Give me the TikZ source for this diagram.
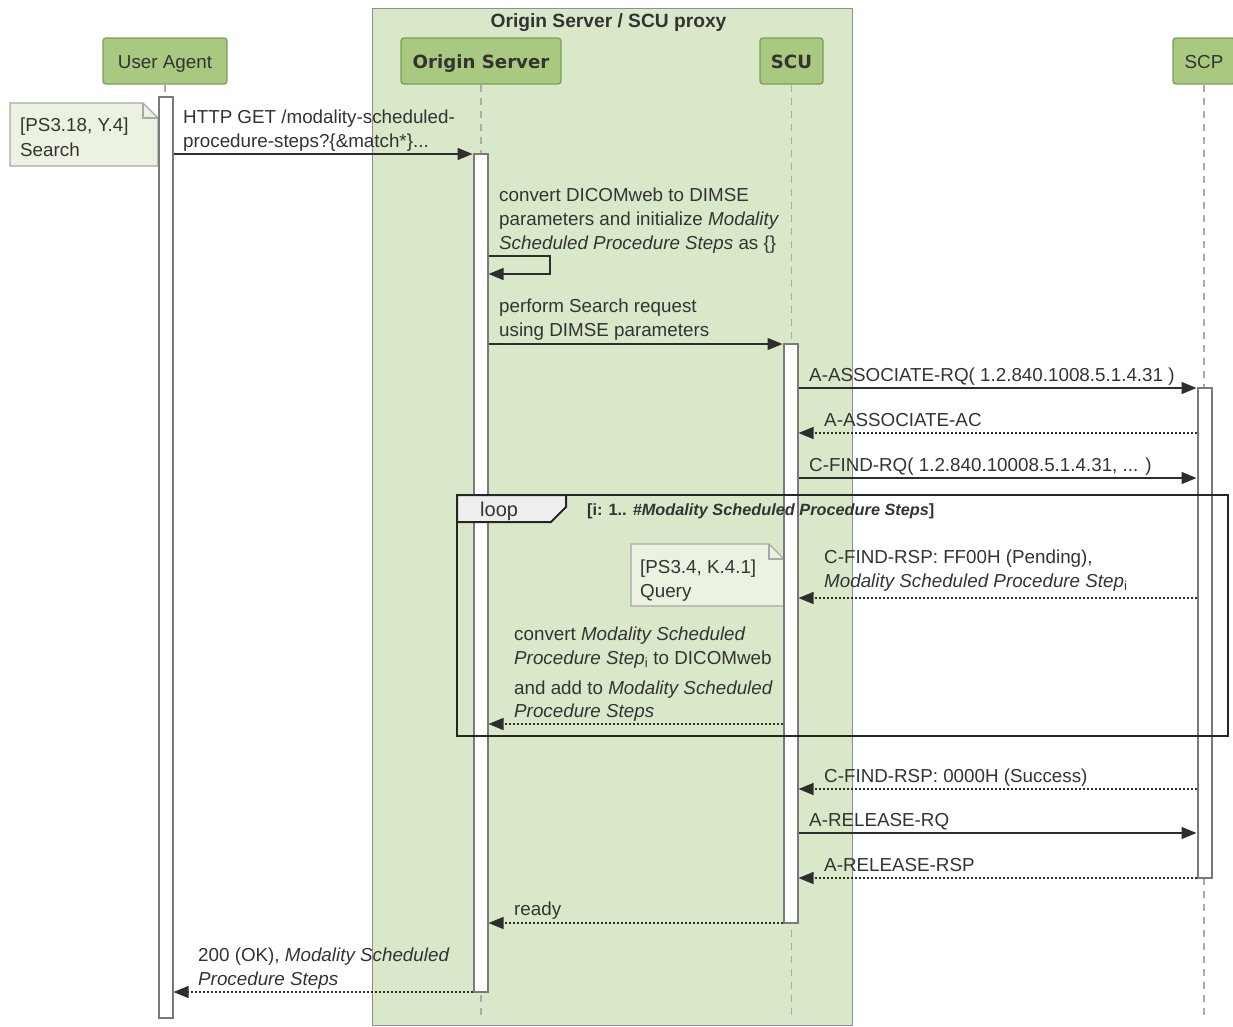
\documentclass[tikz,border=0pt]{standalone}
\usepackage{fontspec}
\setmainfont{Liberation Sans}
\newfontfamily\dejavu{DejaVu Sans}
\usetikzlibrary{arrows.meta}
\definecolor{partfill}{HTML}{A8C97F}
\definecolor{partdraw}{HTML}{7A9F5A}
\definecolor{grpfill}{HTML}{DAE8CA}
\definecolor{grpdraw}{HTML}{8F8F8F}
\definecolor{notefill}{HTML}{EBF2E1}
\definecolor{notedraw}{HTML}{A8A8A8}
\definecolor{tabfill}{HTML}{EEEEEE}
\definecolor{txt}{HTML}{333333}
\definecolor{lnk}{HTML}{2E2E2E}
\definecolor{lifec}{HTML}{ABABAB}
\definecolor{bardraw}{HTML}{7A7A7A}
\newcommand\msgfont{\fontsize{18.8}{24}\selectfont}
\begin{document}
\begin{tikzpicture}[x=1pt,y=-1pt,
  part/.style={draw=partdraw, fill=partfill, rounded corners=3pt, line width=1.3pt,
    minimum height=46pt, inner sep=0pt, text=txt, font=\msgfont, text height=19.5pt, text depth=4pt},
  partb/.style={part, font=\dejavu\bfseries\fontsize{18.2}{22}\selectfont},
  lifeline/.style={draw=lifec, line width=1.5pt, dash pattern=on 7pt off 6pt},
  actbar/.style={draw=bardraw, fill=white, line width=2pt, minimum width=14pt, inner sep=0pt},
  notebox/.style={draw=notedraw, fill=notefill, line width=1.2pt},
  lbl/.style={anchor=base west, inner sep=0pt, text=txt, font=\msgfont},
  msg/.style={draw=lnk, line width=1.4pt, -{Triangle[length=15pt,width=12pt]}},
  reply/.style={msg, dash pattern=on 1.8pt off 2.2pt},
  frame/.style={draw=black!85, line width=2pt}]
\useasboundingbox (0,0) rectangle (1233,1026);
% group box
\node[draw=grpdraw, fill=grpfill, line width=1.2pt, minimum width=480pt, minimum height=1017pt,
  anchor=north west, inner sep=0pt] (grp) at (372,8) {};
\node[anchor=base, inner sep=0pt, text=txt, font=\bfseries\fontsize{19.2}{22}\selectfont] (grpt) at (608.5,27) {Origin Server / SCU proxy};
% participants
\node[part, minimum width=124pt] (ua) at (165,61) {User Agent};
\node[partb, minimum width=160pt] (os) at (481,61) {Origin Server};
\node[partb, minimum width=63pt] (scu) at (791.5,61) {SCU};
\node[part, minimum width=62pt] (scp) at (1204,61) {SCP};
% lifelines
\draw[lifeline] (ua.south) -- (ua.south |- 0,1020);
\draw[lifeline] (os.south) -- (os.south |- 0,1020);
\draw[lifeline] (scu.south) -- (scu.south |- 0,1020);
\draw[lifeline] (scp.south) -- (scp.south |- 0,1020);
% note 1
\draw[notebox] (10,103) -- (143,103) -- (158,118) -- (158,166) -- (10,166) -- cycle;
\draw[draw=notedraw, line width=1.2pt] (143,103) -- (143,118) -- (158,118);
\node[lbl] (n1a) at (20,131) {[PS3.18, Y.4]};
\node[lbl] (n1b) at (20,156) {Search};
% note 2
\draw[notebox] (631,544) -- (769,544) -- (784,559) -- (784,606) -- (631,606) -- cycle;
\draw[draw=notedraw, line width=1.2pt] (769,544) -- (769,559) -- (784,559);
\node[lbl] (n2a) at (640,573) {[PS3.4, K.4.1]};
\node[lbl] (n2b) at (640,597) {Query};
% activation bars
\node[actbar, minimum height=921pt] (uabar) at (165.5,557.5) {};
\node[actbar, minimum height=838pt] (osbar) at (480.5,573) {};
\node[actbar, minimum height=579pt] (scubar) at (790.5,633.5) {};
\node[actbar, minimum height=490pt] (scpbar) at (1204.5,633) {};
% loop frame
\draw[frame] (457,495) rectangle (1228,736);
\draw[frame, fill=tabfill] (457,495) -- (566,495) -- (566,507) -- (551,522) -- (457,522) -- cycle;
\node[anchor=base west, inner sep=0pt, text=txt, font=\fontsize{20}{24}\selectfont] (looplbl) at (480,516) {loop};
\node[anchor=base west, inner sep=0pt, text=txt, font=\bfseries\fontsize{16.3}{20}\selectfont] (cond) at (587,515)
  {[i: 1.. \textit{\#Modality Scheduled Procedure Steps}]};
% messages
\draw[msg] (uabar.east |- 0,154) -- (osbar.west |- 0,154);
\node[lbl] (m1a) at (183,123) {HTTP GET /modality-scheduled-};
\node[lbl] (m1b) at (183,147) {procedure-steps?\{\&match*\}...};

\draw[msg] (osbar.east |- 0,256) -- (550,256) -- (550,274) -- (osbar.east |- 0,274);
\node[lbl] (m2a) at (499,201) {convert DICOMweb to DIMSE};
\node[lbl] (m2b) at (499,225) {parameters and initialize \textit{Modality}};
\node[lbl] (m2c) at (499,249) {\textit{Scheduled Procedure Steps} as \{\}};

\draw[msg] (osbar.east |- 0,344) -- (scubar.west |- 0,344);
\node[lbl] (m3a) at (499,312) {perform Search request};
\node[lbl] (m3b) at (499,336) {using DIMSE parameters};

\draw[msg] (scubar.east |- 0,388) -- (scpbar.west |- 0,388);
\node[lbl] (m4) at (809,381) {A-ASSOCIATE-RQ( 1.2.840.1008.5.1.4.31 )};

\draw[reply] (scpbar.west |- 0,433) -- (scubar.east |- 0,433);
\node[lbl] (m5) at (824,426) {A-ASSOCIATE-AC};

\draw[msg] (scubar.east |- 0,478) -- (scpbar.west |- 0,478);
\node[lbl] (m6) at (809,471) {C-FIND-RQ( 1.2.840.10008.5.1.4.31, ... )};

\draw[reply] (scpbar.west |- 0,598) -- (scubar.east |- 0,598);
\node[lbl] (m7a) at (824,563) {C-FIND-RSP: FF00H (Pending),};
\node[lbl] (m7b) at (824,587) {\textit{Modality Scheduled Procedure Step}\textsubscript{\upshape i}};

\draw[reply] (scubar.west |- 0,724) -- (osbar.east |- 0,724);
\node[lbl] (m8a) at (514,640) {convert \textit{Modality Scheduled}};
\node[lbl] (m8b) at (514,664) {\textit{Procedure Step}\textsubscript{\upshape i} to DICOMweb};
\node[lbl] (m8c) at (514,694) {and add to \textit{Modality Scheduled}};
\node[lbl] (m8d) at (514,717) {\textit{Procedure Steps}};

\draw[reply] (scpbar.west |- 0,789) -- (scubar.east |- 0,789);
\node[lbl] (m9) at (824,782) {C-FIND-RSP: 0000H (Success)};

\draw[msg] (scubar.east |- 0,833) -- (scpbar.west |- 0,833);
\node[lbl] (m10) at (809,826) {A-RELEASE-RQ};

\draw[reply] (scpbar.west |- 0,878) -- (scubar.east |- 0,878);
\node[lbl] (m11) at (824,871) {A-RELEASE-RSP};

\draw[reply] (scubar.west |- 0,923) -- (osbar.east |- 0,923);
\node[lbl] (m12) at (514,915) {ready};

\draw[reply] (osbar.west |- 0,992) -- (uabar.east |- 0,992);
\node[lbl] (m13a) at (198,961) {200 (OK), \textit{Modality Scheduled}};
\node[lbl] (m13b) at (198,985) {\textit{Procedure Steps}};
\end{tikzpicture}
\end{document}
